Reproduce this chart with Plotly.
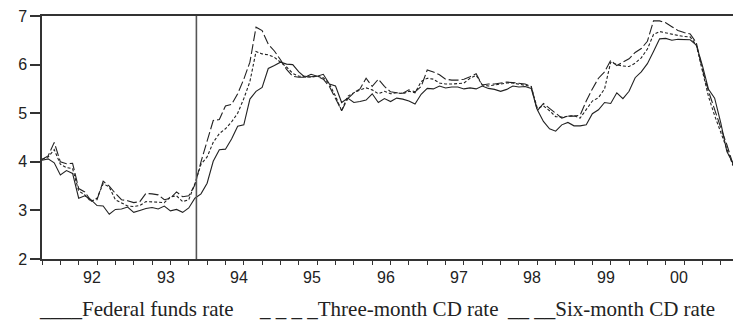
import plotly.graph_objects as go

# ---- data (monthly, Jan 1992 - Jun 2001) ----
years = ["92", "93", "94", "95", "96", "97", "98", "99", "00"]

fed_funds = [
    4.03, 4.06, 3.98, 3.73, 3.82, 3.76, 3.25, 3.30, 3.22, 3.10, 3.09, 2.92,
    3.02, 3.03, 3.07, 2.96, 3.00, 3.04, 3.06, 3.03, 3.09, 2.99, 3.02, 2.96,
    3.05, 3.25, 3.34, 3.56, 4.01, 4.25, 4.26, 4.47, 4.73, 4.76, 5.29, 5.45,
    5.53, 5.92, 5.98, 6.05, 6.01, 6.00, 5.85, 5.74, 5.80, 5.76, 5.80, 5.60,
    5.56, 5.22, 5.31, 5.22, 5.24, 5.27, 5.40, 5.22, 5.30, 5.24, 5.31, 5.29,
    5.25, 5.19, 5.39, 5.51, 5.50, 5.56, 5.52, 5.54, 5.54, 5.50, 5.52, 5.50,
    5.56, 5.51, 5.49, 5.45, 5.49, 5.56, 5.54, 5.55, 5.51, 5.07, 4.83, 4.68,
    4.63, 4.76, 4.81, 4.74, 4.74, 4.76, 4.99, 5.07, 5.22, 5.20, 5.42, 5.30,
    5.45, 5.73, 5.85, 6.02, 6.27, 6.53, 6.54, 6.50, 6.52, 6.51, 6.51, 6.40,
    5.98, 5.49, 5.31, 4.80, 4.21, 3.97,
]

cd_3m = [
    4.05, 4.10, 4.25, 3.95, 3.88, 3.86, 3.40, 3.32, 3.18, 3.25, 3.55, 3.48,
    3.22, 3.15, 3.09, 3.08, 3.10, 3.18, 3.18, 3.17, 3.16, 3.28, 3.30, 3.18,
    3.22, 3.55, 3.95, 4.10, 4.40, 4.58, 4.68, 4.82, 5.00, 5.30, 5.65, 6.27,
    6.22, 6.20, 6.15, 6.05, 5.95, 5.82, 5.76, 5.76, 5.74, 5.76, 5.73, 5.60,
    5.35, 5.05, 5.35, 5.42, 5.48, 5.52, 5.48, 5.40, 5.45, 5.40, 5.42, 5.40,
    5.45, 5.42, 5.65, 5.72, 5.70, 5.62, 5.60, 5.60, 5.61, 5.62, 5.72, 5.78,
    5.58, 5.56, 5.58, 5.60, 5.62, 5.62, 5.60, 5.58, 5.55, 5.10, 5.15, 5.05,
    4.93, 4.92, 4.93, 4.95, 4.90, 5.08, 5.25, 5.32, 5.50, 6.05, 6.00, 5.97,
    5.96, 6.03, 6.14, 6.32, 6.62, 6.68, 6.65, 6.62, 6.60, 6.58, 6.57, 6.40,
    5.85, 5.34, 4.95, 4.62, 4.25, 3.92,
]

cd_6m = [
    4.05, 4.12, 4.40, 4.00, 3.96, 3.97, 3.45, 3.38, 3.20, 3.22, 3.60, 3.50,
    3.35, 3.22, 3.20, 3.16, 3.18, 3.35, 3.34, 3.32, 3.22, 3.25, 3.38, 3.28,
    3.30, 3.52, 4.00, 4.45, 4.85, 4.87, 5.15, 5.18, 5.40, 5.70, 6.05, 6.77,
    6.70, 6.42, 6.28, 6.10, 5.90, 5.76, 5.74, 5.74, 5.75, 5.76, 5.70, 5.55,
    5.30, 5.05, 5.30, 5.42, 5.50, 5.72, 5.55, 5.70, 5.55, 5.44, 5.42, 5.41,
    5.48, 5.44, 5.55, 5.89, 5.85, 5.79, 5.70, 5.68, 5.68, 5.70, 5.75, 5.81,
    5.58, 5.60, 5.60, 5.62, 5.64, 5.63, 5.62, 5.60, 5.55, 5.05, 5.20, 5.10,
    5.00, 4.90, 4.94, 4.94, 4.96, 5.25, 5.50, 5.72, 5.85, 6.09, 5.98, 6.05,
    6.12, 6.25, 6.33, 6.48, 6.90, 6.90, 6.86, 6.78, 6.70, 6.66, 6.63, 6.45,
    5.90, 5.45, 5.05, 4.70, 4.35, 3.95,
]

event_month = 25.25  # Feb 1994 policy tightening

legend_labels = ["____Federal funds rate", "_ _ _ _Three-month CD rate", "__ __Six-month CD rate"]

# ---- derived positions ----
months = list(range(len(fed_funds)))
year_starts = [12 * k for k in range(1, len(years))]
quarter_ticks = [3 * k for k in range(len(fed_funds) // 3 + 1)]
label_pos = [8.2 + 12 * k for k in range(len(years))]

INK = "#222222"
fig = go.Figure()
fig.add_trace(go.Scatter(x=months, y=fed_funds, mode="lines",
                         line=dict(color=INK, width=1.1), name="Federal funds rate"))
fig.add_trace(go.Scatter(x=months, y=cd_3m, mode="lines",
                         line=dict(color=INK, width=1.1, dash="3px,2px"), name="Three-month CD rate"))
fig.add_trace(go.Scatter(x=months, y=cd_6m, mode="lines",
                         line=dict(color=INK, width=1.1, dash="10px,3px"), name="Six-month CD rate"))

fig.add_shape(type="line", xref="x", yref="y", x0=event_month, x1=event_month, y0=2, y1=7,
              line=dict(color="#555555", width=1.6))

fig.update_layout(
    width=733, height=322,
    margin=dict(l=42, r=0, t=16, b=63, autoexpand=False),
    plot_bgcolor="white", paper_bgcolor="white",
    showlegend=False,
    font=dict(family="Liberation Sans, Arial, sans-serif", size=16, color=INK),
    xaxis=dict(range=[0, len(fed_funds) - 1], showline=True, linecolor="#333333", linewidth=1.5,
               mirror=True, showgrid=False, zeroline=False, automargin=False,
               tickmode="array", tickvals=year_starts, ticktext=[""] * len(year_starts),
               ticks="outside", ticklen=7, tickwidth=1.5, tickcolor="#333333",
               minor=dict(tickmode="array", tickvals=quarter_ticks, ticks="outside",
                          ticklen=4, tickwidth=1.2, tickcolor="#333333", showgrid=False)),
    yaxis=dict(range=[2, 7], showline=True, linecolor="#333333", linewidth=1.5,
               showgrid=False, zeroline=False, automargin=False,
               tickmode="array", tickvals=[2, 3, 4, 5, 6, 7],
               ticks="outside", ticklen=10, tickwidth=1.5, tickcolor="#333333",
               tickfont=dict(size=16, color=INK)),
)

# year labels under the axis
for lab, xp in zip(years, label_pos):
    fig.add_annotation(text=lab, xref="x", yref="paper", x=xp, y=-0.078,
                       xanchor="center", yanchor="middle", showarrow=False,
                       font=dict(family="Liberation Sans, Arial, sans-serif", size=16, color=INK))

legend_x = [-0.0075, 0.311, 0.670]
for txt, xp in zip(legend_labels, legend_x):
    fig.add_annotation(text=txt, xref="paper", yref="paper", x=xp, y=-0.206,
                       xanchor="left", yanchor="middle", showarrow=False,
                       font=dict(family="Liberation Serif, Times New Roman, serif", size=21, color=INK))

fig.write_html("out.html", config={"displayModeBar": False},
               post_script="document.body.style.margin='0px';document.body.style.padding='0px';")
